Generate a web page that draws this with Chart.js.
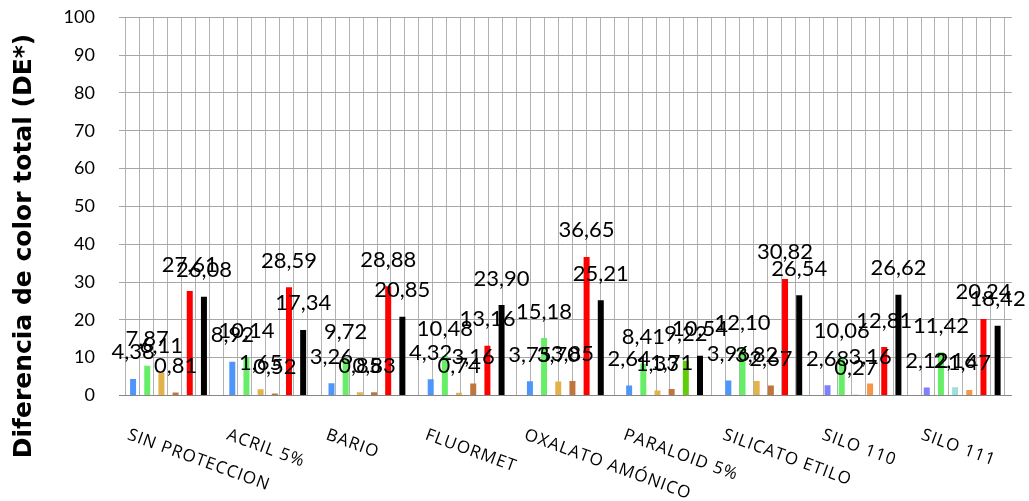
<!DOCTYPE html>
<html><head><meta charset="utf-8">
<script src="https://cdn.jsdelivr.net/npm/chart.js@4.4.1/dist/chart.umd.min.js"></script>
<style>html,body{margin:0;padding:0;background:#fff}#wrap{width:1029px;height:501px;position:relative}</style>
</head><body><div id="wrap"><canvas id="c"></canvas></div>
<script>
const categories = ['SIN PROTECCION','ACRIL 5%','BARIO','FLUORMET','OXALATO AMÓNICO','PARALOID 5%','SILICATO ETILO','SILO 110','SILO 111'];
const serie1 = [4.38, 8.92, 3.26, 4.32, 3.75, 2.64, 3.96, 2.68, 2.12];
const serie2 = [7.87, 10.14, 9.72, 10.48, 15.18, 8.41, 12.10, 10.06, 11.42];
const serie3 = [6.11, 1.65, 0.85, 0.74, 3.70, 1.33, 3.82, 0.27, 2.16];
const serie4 = [0.81, 0.52, 0.83, 3.16, 3.85, 1.71, 2.67, 3.16, 1.47];
const serie5 = [27.61, 28.59, 28.88, 13.16, 36.65, 9.22, 30.82, 12.81, 20.24];
const serie6 = [26.08, 17.34, 20.85, 23.90, 25.21, 10.54, 26.54, 26.62, 18.42];
const yTicks = [0,10,20,30,40,50,60,70,80,90,100];
const yTitle = 'Diferencia de color total (DE*)';

const col1 = ['#4f96fb','#4f96fb','#4f96fb','#4f96fb','#4f96fb','#4f96fb','#4f96fb','#8080ff','#8080ff'];
const col2 = '#66ee66';
const col3 = ['#e2b34a','#e2b34a','#e2b34a','#e2b34a','#e2b34a','#e2b34a','#e2b34a','#a0dede','#a0dede'];
const col4 = ['#c0763a','#c0763a','#c0763a','#c0763a','#c0763a','#c0763a','#c0763a','#f79646','#f79646'];
const col5 = ['#ff0000','#ff0000','#ff0000','#ff0000','#ff0000','#60cc0a','#ff0000','#ff0000','#ff0000'];
const col6 = '#000000';

const fmt = v => v.toFixed(2).replace('.', ',');

const textPlugin = {
  id: 'textPlugin',
  afterDatasetsDraw(chart) {
    const ctx = chart.ctx;
    ctx.save();
    ctx.fillStyle = '#000';
    ctx.font = '22px Lato';
    ctx.textAlign = 'center';
    ctx.textBaseline = 'alphabetic';
    chart.data.datasets.forEach((ds, di) => {
      chart.getDatasetMeta(di).data.forEach((bar, i) => {
        ctx.fillText(fmt(ds.data[i]), bar.x, bar.y - 19.5);
      });
    });
    const xs = chart.scales.x;
    ctx.font = '17px "Open Sans"';
    ctx.textAlign = 'left';
    if ('letterSpacing' in ctx) ctx.letterSpacing = '1px';
    categories.forEach((c, i) => {
      const px = xs.getPixelForValue(i);
      ctx.save();
      ctx.translate(px - 42, 439);
      ctx.rotate(20 * Math.PI / 180);
      ctx.fillText(c, 0, 0);
      ctx.restore();
    });
    if ('letterSpacing' in ctx) ctx.letterSpacing = '0px';
    ctx.save();
    ctx.font = 'bold 25px "DejaVu Sans"';
    ctx.translate(24, 246);
    ctx.rotate(-Math.PI / 2);
    ctx.textAlign = 'center';
    ctx.textBaseline = 'middle';
    ctx.fillText(yTitle, 0, 0);
    ctx.restore();
    ctx.restore();
  }
};

const mk = (data, color) => ({
  data, backgroundColor: color, borderWidth: 0,
  barPercentage: 0.423, categoryPercentage: 6/7, xAxisID: 'x', yAxisID: 'y'
});

new Chart(document.getElementById('c'), {
  type: 'bar',
  data: {
    labels: categories,
    datasets: [mk(serie1,col1), mk(serie2,col2), mk(serie3,col3), mk(serie4,col4), mk(serie5,col5), mk(serie6,col6)]
  },
  options: {
    responsive: true, maintainAspectRatio: false, animation: false,
    layout: { padding: { top: 17.3, right: 17.2, bottom: 0, left: 0 } },
    plugins: { legend: { display: false }, tooltip: { enabled: false } },
    scales: {
      x: {
        type: 'category', position: 'bottom',
        grid: { display: false, drawTicks: false },
        border: { display: false },
        ticks: { display: false },
        afterFit: s => { s.height = 105.5; }
      },
      xg: {
        type: 'linear', position: 'bottom', min: 0, max: 63,
        grid: { color: '#b2b2b2', lineWidth: 1, drawTicks: false },
        border: { display: false },
        ticks: { display: false },
        afterBuildTicks: s => { const t = []; for (let k = 0; k < 63; k++) t.push({ value: k + 0.5 }); s.ticks = t; },
        afterFit: s => { s.height = 0; }
      },
      y: {
        min: 0, max: 100,
        afterBuildTicks: s => { s.ticks = yTicks.map(v => ({ value: v })); },
        ticks: { font: { family: 'Lato', size: 18 }, color: '#000', padding: 0 },
        grid: { color: c => (c.tick && c.tick.value === 0) ? '#868686' : '#a6a6a6', lineWidth: 1, drawTicks: true, tickLength: 24, tickColor: 'rgba(0,0,0,0)' },
        border: { display: false },
        afterFit: s => { s.width = 118.9; }
      }
    }
  },
  plugins: [textPlugin]
});
</script>
</body></html>
